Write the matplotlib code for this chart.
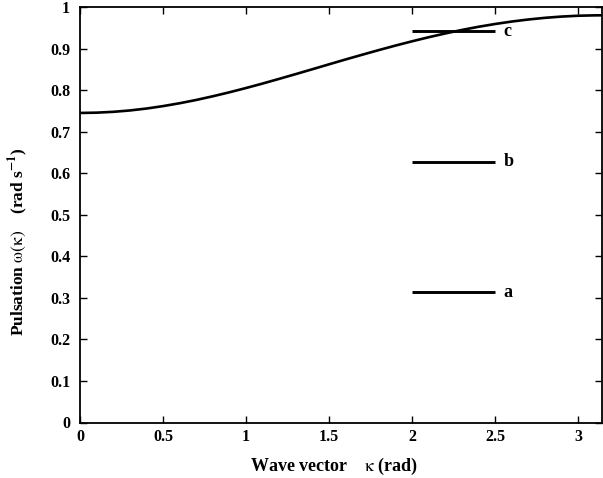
import matplotlib
matplotlib.use("Agg")
import matplotlib.pyplot as plt
import numpy as np

# Dispersion curve
kappa = [0.0, 0.1, 0.2, 0.3, 0.4, 0.5, 0.6, 0.7, 0.8, 0.9, 1.0, 1.1, 1.2, 1.3, 1.4, 1.5,
         1.6, 1.7, 1.8, 1.9, 2.0, 2.1, 2.2, 2.3, 2.4, 2.5, 2.6, 2.7, 2.8, 2.9, 3.0, 3.1, 3.1416]
omega = [0.745, 0.7457, 0.7477, 0.751, 0.7556, 0.7615, 0.7684, 0.7763, 0.7852, 0.7948,
         0.8051, 0.8159, 0.8272, 0.8387, 0.8504, 0.8622, 0.8739, 0.8853, 0.8965, 0.9073,
         0.9176, 0.9274, 0.9365, 0.9449, 0.9525, 0.9592, 0.9651, 0.970, 0.974, 0.977,
         0.979, 0.9799, 0.980]

# Horizontal marker lines
level_names = ["a", "b", "c"]
level_values = [0.314, 0.628, 0.942]
level_x = [2.0, 2.5]

x_ticks = [0, 0.5, 1, 1.5, 2, 2.5, 3]
x_tick_labels = ["0", "0.5", "1", "1.5", "2", "2.5", "3"]
y_ticks = [0, 0.1, 0.2, 0.3, 0.4, 0.5, 0.6, 0.7, 0.8, 0.9, 1]
y_tick_labels = ["0", "0.1", "0.2", "0.3", "0.4", "0.5", "0.6", "0.7", "0.8", "0.9", "1"]

plt.rcParams['font.family'] = ['Liberation Serif', 'DejaVu Serif']
plt.rcParams['mathtext.fontset'] = 'stix'

fig = plt.figure(figsize=(6.03, 4.78), dpi=100)
ax = fig.add_axes([80 / 603, 1 - 422.5 / 478, 522 / 603, 415.5 / 478])

ax.plot(kappa, omega, color='black', lw=1.9, solid_capstyle='butt')
for name, v in zip(level_names, level_values):
    ax.plot(level_x, [v, v], color='black', lw=2.1, solid_capstyle='butt')
    ax.text(level_x[1] + 0.05, v, name, fontsize=13, fontweight='bold',
            va='center', ha='left')

ax.set_xlim(0, np.pi)
ax.set_ylim(0, 1)
ax.set_xticks(x_ticks)
ax.set_xticklabels(x_tick_labels, fontsize=11.5, fontweight='bold')
ax.set_yticks(y_ticks)
ax.set_yticklabels(y_tick_labels, fontsize=11.5, fontweight='bold')
ax.tick_params(direction='in', top=True, right=True, length=5, width=1.0)
ax.tick_params(axis='x', pad=5)
ax.tick_params(axis='y', pad=7)
for s in ax.spines.values():
    s.set_linewidth(1.3)

fig.text(334 / 603, 1 - 466 / 478, r"Wave vector    $\mathrm{\kappa}$ (rad)", fontsize=13,
         fontweight='bold', ha='center', va='center')
fig.text(18 / 603, 1 - 242 / 478, r"Pulsation $\mathrm{\omega(\kappa)}$    (rad s$^{\mathbf{-1}}$)",
         fontsize=12.5, fontweight='bold', rotation=90, ha='center', va='center')

fig.savefig("out.png", dpi=100)
